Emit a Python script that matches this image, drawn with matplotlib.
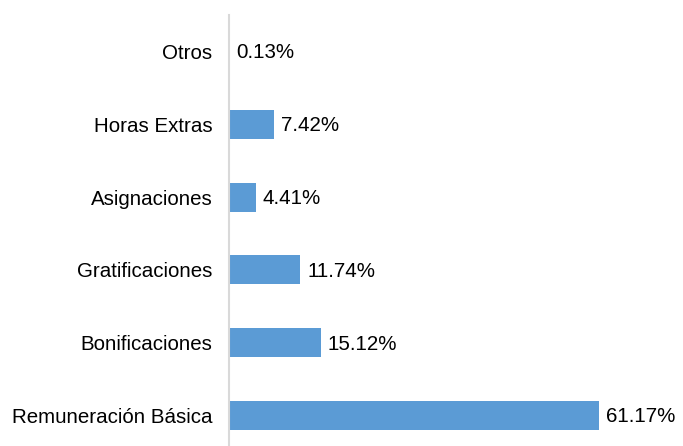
import matplotlib
matplotlib.use("Agg")
import matplotlib.pyplot as plt

categories = ["Remuneración Básica", "Bonificaciones", "Gratificaciones",
              "Asignaciones", "Horas Extras", "Otros"]
values = [61.17, 15.12, 11.74, 4.41, 7.42, 0.13]
labels = ["61.17%", "15.12%", "11.74%", "4.41%", "7.42%", "0.13%"]

plt.rcParams['font.family'] = ['Liberation Sans', 'DejaVu Sans']

fig = plt.figure(figsize=(6.83, 4.46), dpi=100)
ax = fig.add_axes([229 / 683, 1 - 452 / 446, 1 - 229 / 683, 437 / 446])

ypos = list(range(len(categories)))
ax.barh(ypos, values, height=0.4, color="#5b9bd5")

for y, v, lab in zip(ypos, values, labels):
    ax.annotate(lab, (v, y), xytext=(5, -1), textcoords="offset points",
                ha="left", va="center", fontsize=14.8, color="black")

ax.set_xlim(0, 75)
ax.set_ylim(-0.5, 5.5)
ax.set_yticks(ypos)
ax.set_yticklabels(categories, fontsize=14.8, color="black")
ax.tick_params(axis="y", length=0, pad=12)
ax.set_xticks([])

for side in ["top", "right", "bottom"]:
    ax.spines[side].set_visible(False)
ax.spines["left"].set_color("#d9d9d9")
ax.spines["left"].set_linewidth(1.5)

fig.savefig("out.png", dpi=100)
